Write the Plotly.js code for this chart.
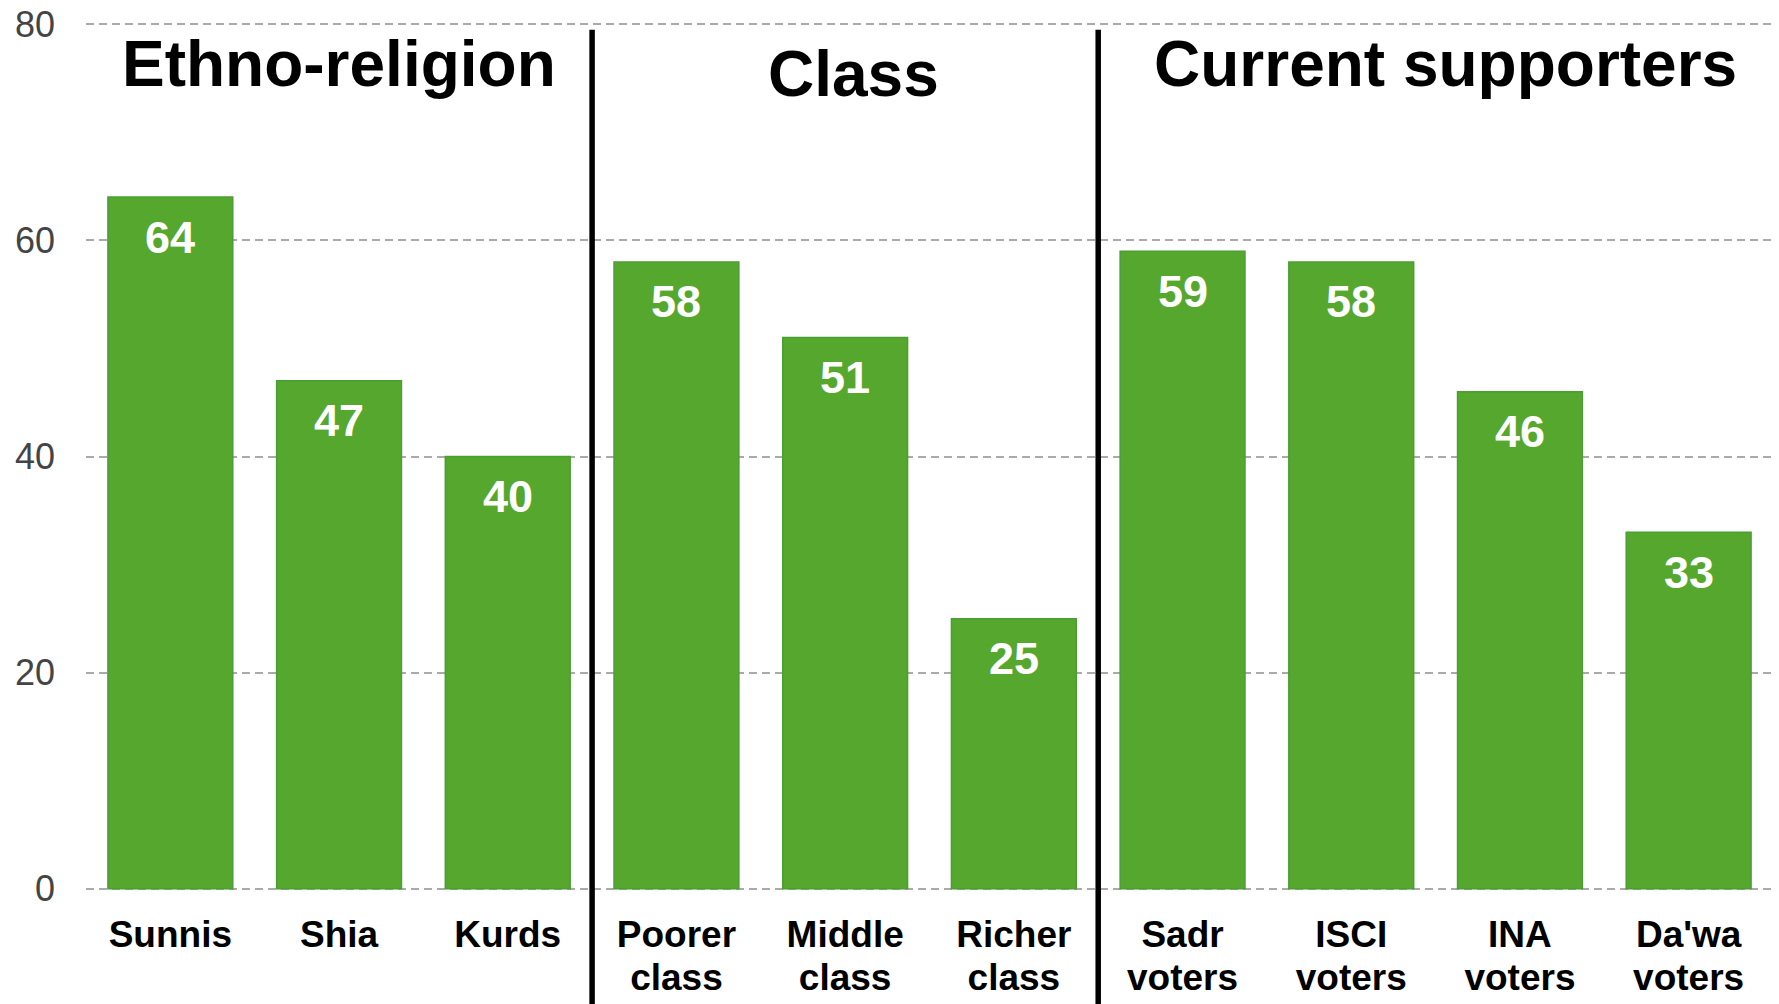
<!DOCTYPE html>
<html>
<head>
<meta charset="utf-8">
<script src="https://cdn.plot.ly/plotly-3.0.1.min.js"></script>
<style>
  html, body { margin: 0; padding: 0; background: #ffffff; }
  #chart { width: 1779px; height: 1004px; }
</style>
</head>
<body>
<div id="chart"></div>
<script>
// ---- Data ----
const categories = ["Sunnis", "Shia", "Kurds", "Poorer class", "Middle class", "Richer class",
                    "Sadr voters", "ISCI voters", "INA voters", "Da'wa voters"];
const tickLine1 = ["Sunnis", "Shia", "Kurds", "Poorer", "Middle", "Richer",
                   "Sadr", "ISCI", "INA", "Da'wa"];
const tickLine2 = ["", "", "", "class", "class", "class",
                   "voters", "voters", "voters", "voters"];
const values = [64, 47, 40, 58, 51, 25, 59, 58, 46, 33];
const groupNames = ["Ethno-religion", "Class", "Current supporters"];
const groupSizes = [3, 3, 4];
const yTicks = [0, 20, 40, 60, 80];

// ---- Styles ----
const FONT = "Liberation Sans, Arial, sans-serif";
const GREEN = "#55a72d";
const idx = categories.map((_, i) => i);

const trace = {
  type: "bar",
  x: idx,
  y: values,
  marker: { color: GREEN, line: { color: "#4b9e33", width: 1.5 } },
  hoverinfo: "skip",
  showlegend: false
};
// empty helper trace so the second-line label axis is drawn
const helper = {
  type: "scatter", mode: "none", x: [], y: [],
  xaxis: "x2", yaxis: "y", hoverinfo: "skip", showlegend: false
};

const annotations = [];
// value labels inside bars
values.forEach((v, i) => {
  annotations.push({
    x: i, y: v, xref: "x", yref: "y",
    text: String(v), showarrow: false,
    xanchor: "center", yanchor: "middle", yshift: -40,
    font: { family: FONT, size: 45, color: "#ffffff", weight: "bold" }
  });
});

// group titles and dividers
const titleShiftX = [0, 8, 10];
const titleShiftY = [-42, -52, -42];
const shapes = [];
let start = 0;
groupSizes.forEach((n, g) => {
  const center = start + (n - 1) / 2;
  annotations.push({
    x: center, y: 1, xref: "x", yref: "paper",
    text: "<b>" + groupNames[g] + "</b>", showarrow: false,
    xanchor: "center", yanchor: "middle",
    xshift: titleShiftX[g], yshift: titleShiftY[g],
    font: { family: FONT, size: 64, color: "#000000" }
  });
  if (g < groupSizes.length - 1) {
    const bx = start + n - 0.5;
    shapes.push({
      type: "line", xref: "x", yref: "paper",
      x0: bx, x1: bx, y0: -0.14, y1: 0.991,
      line: { color: "#000000", width: 5.5 }
    });
  }
  start += n;
});

const xTickFont = { family: FONT, size: 37, color: "#000000", weight: "bold" };
const xRange = [-0.5, categories.length - 0.5];

const layout = {
  width: 1779, height: 1004,
  margin: { l: 86, r: 6, t: 22, b: 113, pad: 0 },
  paper_bgcolor: "#ffffff", plot_bgcolor: "#ffffff",
  bargap: 0.26,
  xaxis: {
    range: xRange,
    tickvals: idx, ticktext: tickLine1,
    showgrid: false, zeroline: false, showline: false, ticks: "",
    ticklabelstandoff: 18,
    tickfont: xTickFont,
    fixedrange: true
  },
  xaxis2: {
    range: xRange, overlaying: "x", anchor: "y", side: "bottom",
    tickmode: "array", tickvals: idx, ticktext: tickLine2,
    showgrid: false, zeroline: false, showline: false, ticks: "",
    ticklabelstandoff: 61,
    tickfont: xTickFont,
    fixedrange: true
  },
  yaxis: {
    range: [-0.2, 80.2], tickvals: yTicks,
    showgrid: true, gridcolor: "#aaaaaa", gridwidth: 2, griddash: "8px,5px",
    zeroline: false, showline: false, ticks: "",
    ticklabelstandoff: 30,
    tickfont: { family: FONT, size: 36, color: "#444444" },
    fixedrange: true
  },
  annotations: annotations,
  shapes: shapes
};

Plotly.newPlot("chart", [trace, helper], layout, { displayModeBar: false, staticPlot: true });
</script>
</body>
</html>
